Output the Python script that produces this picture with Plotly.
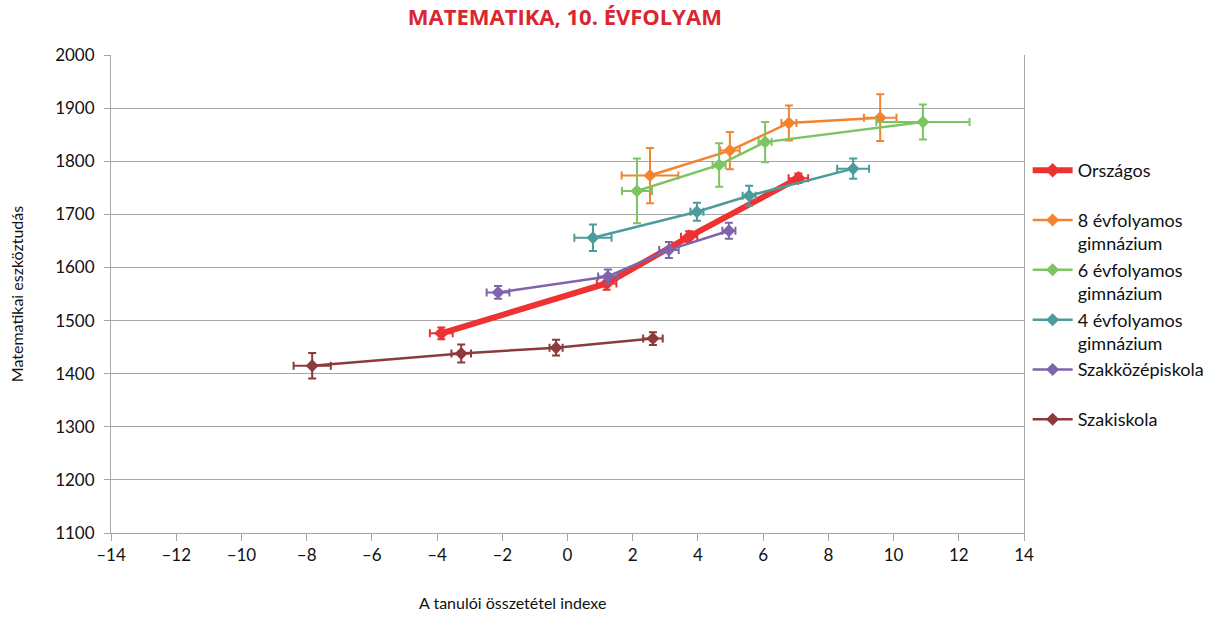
import plotly.graph_objects as go

# Matematika, 10. évfolyam
series_names = ["Országos", "8 évfolyamos<br>gimnázium", "6 évfolyamos<br>gimnázium",
                "4 évfolyamos<br>gimnázium", "Szakközépiskola", "Szakiskola"]
series_colors = ["#ee3131", "#f5822f", "#7dc462", "#4b9c9b", "#7e64aa", "#8c3a3b"]

orszagos_x = [-3.87, 1.2, 3.73, 7.08]
orszagos_y = [1476, 1570, 1658, 1768]
orszagos_ex = [0.35, 0.3, 0.25, 0.3]
orszagos_ey = [11, 12, 10, 9]

gimn8_x = [2.53, 4.98, 6.79, 9.59]
gimn8_y = [1773, 1820, 1872, 1882]
gimn8_ex = [0.87, 0.3, 0.23, 0.5]
gimn8_ey = [52, 35, 33, 44]

gimn6_x = [2.13, 4.65, 6.06, 10.9]
gimn6_y = [1744, 1793, 1836, 1874]
gimn6_ex = [0.46, 0.2, 0.2, 1.43]
gimn6_ey = [61, 41, 38, 33]

gimn4_x = [0.78, 3.97, 5.57, 8.76]
gimn4_y = [1656, 1705, 1735, 1786]
gimn4_ex = [0.57, 0.2, 0.2, 0.49]
gimn4_ey = [25, 17, 19, 19]

szakkozep_x = [-2.13, 1.24, 3.11, 4.95]
szakkozep_y = [1553, 1583, 1633, 1669]
szakkozep_ex = [0.35, 0.3, 0.3, 0.2]
szakkozep_ey = [12, 13, 15, 15]

szakiskola_x = [-7.83, -3.26, -0.35, 2.62]
szakiskola_y = [1415, 1438, 1449, 1466]
szakiskola_ex = [0.57, 0.3, 0.2, 0.3]
szakiskola_ey = [24, 17, 15, 12]

x_ticks = list(range(-14, 15, 2))
x_ticktext = [("–" + str(-v)) if v < 0 else str(v) for v in x_ticks]
y_ticks = list(range(1100, 2001, 100))

all_data = [
    (orszagos_x, orszagos_y, orszagos_ex, orszagos_ey),
    (gimn8_x, gimn8_y, gimn8_ex, gimn8_ey),
    (gimn6_x, gimn6_y, gimn6_ex, gimn6_ey),
    (gimn4_x, gimn4_y, gimn4_ex, gimn4_ey),
    (szakkozep_x, szakkozep_y, szakkozep_ex, szakkozep_ey),
    (szakiskola_x, szakiskola_y, szakiskola_ex, szakiskola_ey),
]

FONT = "Lato, 'Open Sans', sans-serif"

fig = go.Figure()
for i, (xs, ys, exs, eys) in enumerate(all_data):
    name = series_names[i]
    if "<br>" not in name:
        name = name + "<br> "
    color = series_colors[i]
    fig.add_trace(go.Scatter(
        x=xs, y=ys, name=name, mode="lines+markers",
        line=dict(color=color, width=6 if i == 0 else 2.5),
        marker=dict(symbol="diamond", size=11 if i == 0 else 10, color=color),
        error_x=dict(type="data", array=exs, color=color, thickness=2, width=4),
        error_y=dict(type="data", array=eys, color=color, thickness=2, width=4),
    ))

fig.update_layout(
    width=1228, height=617,
    margin=dict(l=111, r=204, t=55, b=84),
    paper_bgcolor="white", plot_bgcolor="white",
    font=dict(family=FONT, size=17, color="#111111"),
    title=dict(text="<b>MATEMATIKA, 10. ÉVFOLYAM</b>", x=0.46, xanchor="center",
               y=0.972, yanchor="middle",
               font=dict(family="'Open Sans', sans-serif", size=22, color="#d9262f")),
    xaxis=dict(range=[-14, 14], tickvals=x_ticks, ticktext=x_ticktext,
               showgrid=False, zeroline=False,
               showline=True, linecolor="#a6a6a6", linewidth=1, mirror=False,
               ticks="outside", ticklen=7, tickcolor="#a6a6a6",
               tickfont=dict(size=17)),
    yaxis=dict(range=[1100, 2000], tickvals=y_ticks,
               showgrid=True, gridcolor="#a6a6a6", gridwidth=1, zeroline=False,
               showline=True, linecolor="#a6a6a6", linewidth=1, mirror=True,
               ticks="outside", ticklen=6, tickcolor="#a6a6a6", ticklabelstandoff=6,
               tickfont=dict(size=17),
               title=dict(text="Matematikai eszköztudás", font=dict(size=16), standoff=27)),
    legend=dict(x=1.004, xanchor="left", y=0.797, yanchor="top",
                valign="top", tracegroupgap=0, itemwidth=40,
                font=dict(family=FONT, size=18, color="#111111"),
                bgcolor="rgba(0,0,0,0)"),
    annotations=[dict(text="A tanulói összetétel indexe", xref="paper", yref="paper",
                      x=0.440, y=-0.146, xanchor="center", yanchor="middle",
                      showarrow=False, font=dict(size=16))],
)

# drop the default 8px body margin so the figure fills the window exactly
fig.write_html("out.html", config={"displayModeBar": False},
               post_script="document.body.style.margin='0';")
